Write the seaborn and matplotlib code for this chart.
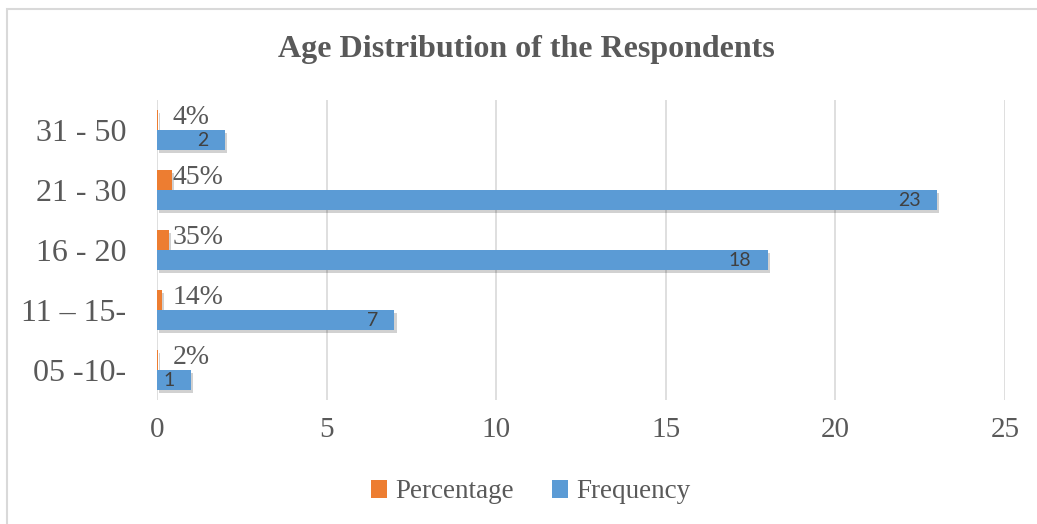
import pandas as pd
import matplotlib
matplotlib.use("Agg")
import matplotlib.pyplot as plt
import matplotlib.patheffects as pe
from matplotlib.patches import Rectangle, Patch
import seaborn as sns

# data
age_groups = ["31 - 50", "21 - 30", "16 - 20", "11 \u2013 15-", "05 -10-"]
percentage = [0.04, 0.45, 0.35, 0.14, 0.02]
frequency = [2, 23, 18, 7, 1]
pct_labels = ["4%", "45%", "35%", "14%", "2%"]
series = ["Percentage", "Frequency"]
colors = {"Percentage": "#ED7D31", "Frequency": "#5B9BD5"}

df = pd.DataFrame({
    "Age": age_groups * 2,
    "Value": percentage + frequency,
    "Series": ["Percentage"] * 5 + ["Frequency"] * 5,
})

sns.set_style("white")
plt.rcParams["font.family"] = ["Liberation Serif", "DejaVu Serif"]
text_col = "#595959"

fig = plt.figure(figsize=(10.37, 5.24), dpi=100)
ax = fig.add_axes([157 / 1037, 1 - 400 / 524, (1005 - 157) / 1037, 300 / 524])

sns.barplot(data=df, y="Age", x="Value", hue="Series", hue_order=series,
            order=age_groups, orient="h", palette=colors, saturation=1,
            width=0.667, ax=ax, legend=False, zorder=3)

# soft shadow like the Excel bars
for p in ax.patches:
    p.set_path_effects([pe.SimplePatchShadow(offset=(1.5, -2), alpha=0.18, shadow_rgbFace="#000000"),
                        pe.Normal()])
    p.set_linewidth(0)

ax.set_xlim(0, 25)
ax.set_ylim(4.5, -0.5)
ax.set_xticks(range(0, 26, 5))
ax.xaxis.grid(True, color="#D9D9D9", linewidth=1.2, zorder=0)
ax.set_axisbelow(True)
for s in ax.spines.values():
    s.set_visible(False)
ax.set_xlabel("")
ax.set_ylabel("")
ax.tick_params(axis="y", labelsize=23, colors=text_col, length=0, pad=22)
ax.tick_params(axis="x", labelsize=21, colors=text_col, length=0, pad=12)

# labels
pct_bars = ax.containers[0]
freq_bars = ax.containers[1]
lab_x = max(percentage)
for bar, lab in zip(pct_bars, pct_labels):
    yc = bar.get_y() + bar.get_height() / 2
    ax.annotate(lab, (lab_x, yc), xytext=(0, 1.5), textcoords="offset points",
                ha="left", va="center", fontsize=20, color=text_col)
for bar, val in zip(freq_bars, frequency):
    yc = bar.get_y() + bar.get_height() / 2
    ax.annotate(str(val), (bar.get_width(), yc), xytext=(-12, -0.5), textcoords="offset points",
                ha="right", va="center", fontsize=14, color="#404040",
                family=["Lato", "DejaVu Sans"])

fig.text(0.508, 1 - 50 / 524, "Age Distribution of the Respondents", ha="center", va="center",
         fontsize=23, fontweight="bold", color=text_col)

handles = [Patch(facecolor=colors[s], edgecolor="none") for s in series]
fig.legend(handles, series, loc="center", bbox_to_anchor=(531 / 1037, 1 - 492 / 524), ncol=2,
           frameon=False, fontsize=19.5, labelcolor=text_col, handlelength=0.6, handleheight=0.6,
           handletextpad=0.3, columnspacing=1.4)

# outer chart border
fig.patches.append(Rectangle((7 / 1037, -0.1), 1.2, 1.1 - 9 / 524, transform=fig.transFigure,
                             fill=False, edgecolor="#D9D9D9", linewidth=1.5))

fig.savefig("out.png", dpi=100)
